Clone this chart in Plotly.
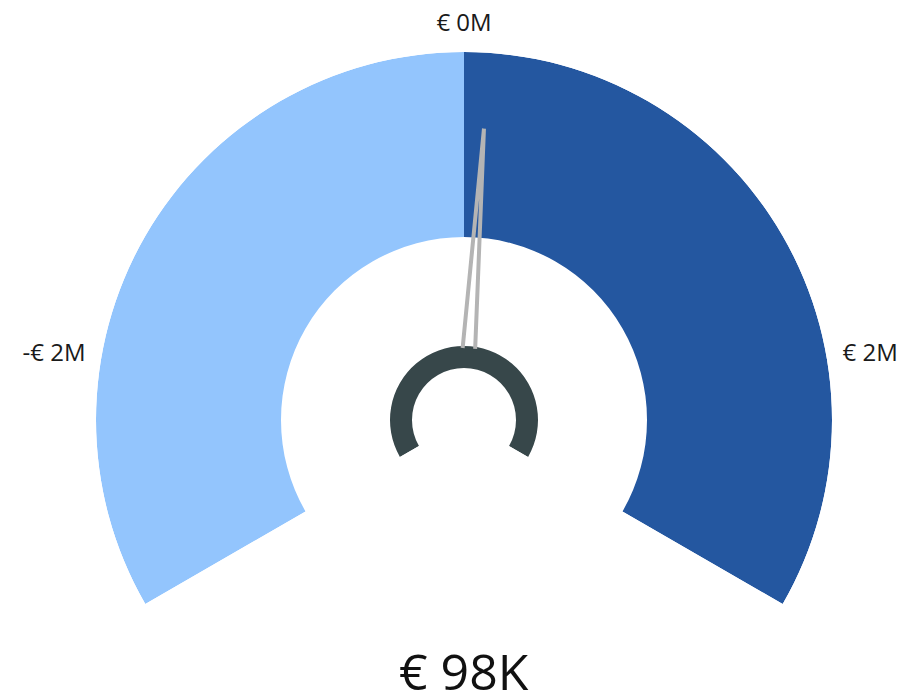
import plotly.graph_objects as go

# gauge data (euros)
gauge_min = -3000000
gauge_max = 3000000
value = 98000
value_label = "€ 98K"
band_starts = [-3000000, 0]
band_ends = [0, 3000000]
band_colors = ["#93C5FD", "#2457A0"]
tick_values = [-2000000, 0, 2000000]
tick_labels = ["-€ 2M", "€ 0M", "€ 2M"]

SWEEP = 240.0  # degrees covered by the gauge
R_OUT, R_IN = 368, 183
RING_OUT, RING_IN = 74, 52


def to_theta(v):
    # map value to angle, 0 at the top, clockwise positive
    return (v - (gauge_min + gauge_max) / 2) / (gauge_max - gauge_min) * SWEEP


fig = go.Figure()

# colour bands
fig.add_trace(
    go.Barpolar(
        theta=[(to_theta(a) + to_theta(b)) / 2 for a, b in zip(band_starts, band_ends)],
        width=[to_theta(b) - to_theta(a) for a, b in zip(band_starts, band_ends)],
        base=[R_IN] * len(band_starts),
        r=[R_OUT - R_IN] * len(band_starts),
        marker=dict(color=band_colors, line=dict(width=0)),
        hoverinfo="skip",
    )
)

# small hub ring
fig.add_trace(
    go.Barpolar(
        theta=[0],
        width=[SWEEP],
        base=[RING_IN],
        r=[RING_OUT - RING_IN],
        marker=dict(color="#37474A", line=dict(width=0)),
        hoverinfo="skip",
    )
)

# needle outline
tv = to_theta(value)
fig.add_trace(
    go.Scatterpolar(
        r=[RING_OUT - 2, 292, RING_OUT - 2],
        theta=[tv - 5.0, tv, tv + 5.0],
        mode="lines",
        line=dict(color="#B4B4B4", width=4),
        hoverinfo="skip",
    )
)

fig.update_layout(
    width=909,
    height=700,
    showlegend=False,
    paper_bgcolor="white",
    plot_bgcolor="white",
    margin=dict(l=88, r=85, t=44, b=104),
    font=dict(family="Open Sans", size=24, color="#1a1a1a"),
    polar=dict(
        sector=[-30, 210],
        hole=0,
        bgcolor="rgba(0,0,0,0)",
        bargap=0,
        radialaxis=dict(range=[0, R_OUT], visible=False),
        angularaxis=dict(
            rotation=90,
            direction="clockwise",
            thetaunit="degrees",
            showgrid=False,
            showline=False,
            tickmode="array",
            tickvals=[to_theta(t) for t in tick_values],
            ticktext=tick_labels,
            ticks="outside",
            ticklen=11,
            tickcolor="rgba(0,0,0,0)",
            tickfont=dict(size=24, color="#1a1a1a"),
        ),
    ),
    annotations=[
        dict(
            text=value_label,
            x=0.5,
            y=-0.122,
            xref="paper",
            yref="paper",
            xanchor="center",
            yanchor="middle",
            showarrow=False,
            font=dict(size=50, color="#111111"),
        )
    ],
)

fig.write_html("out.html")
